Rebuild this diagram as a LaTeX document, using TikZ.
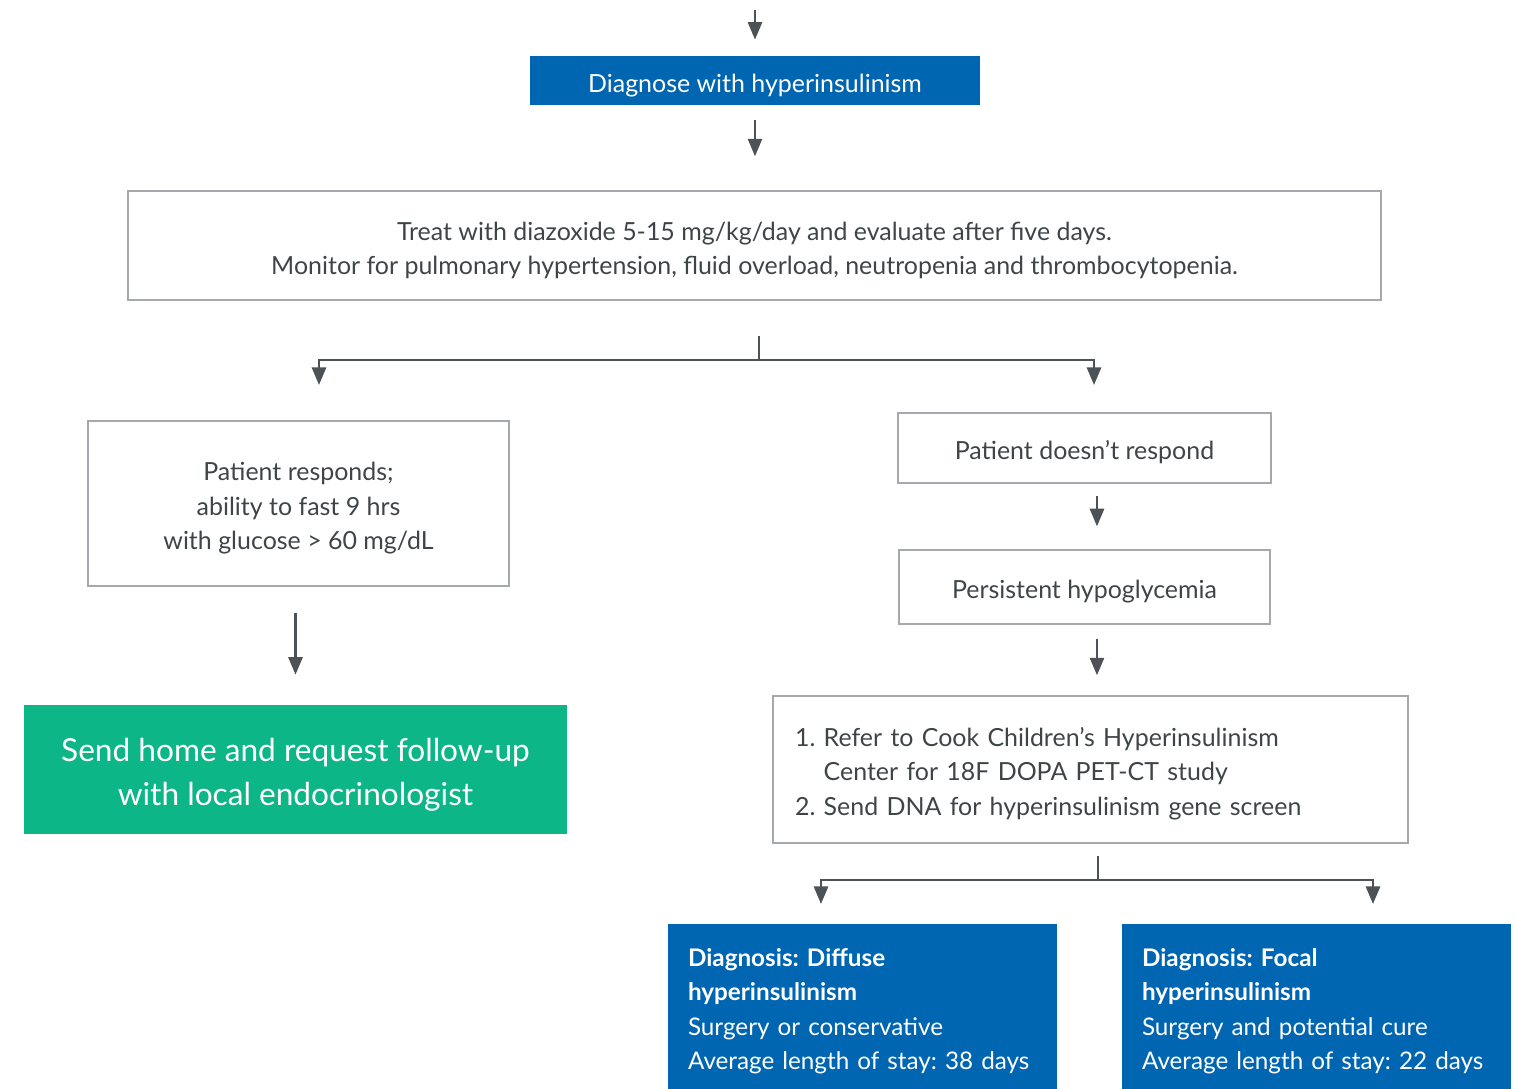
\documentclass[tikz,border=0pt]{standalone}
\usepackage{fontspec}
\setmainfont{Lato}
\usetikzlibrary{arrows.meta}
\frenchspacing
\definecolor{ciblue}{HTML}{0066B2}
\definecolor{cigreen}{HTML}{0CB687}
\definecolor{citext}{HTML}{3F4447}
\definecolor{ciline}{HTML}{A5A9AD}
\definecolor{ciarrow}{HTML}{4D5256}
\newcommand{\bodyfont}{\fontsize{14.2}{19.6}\selectfont}
\newcommand{\lift}[1]{\rule{0pt}{#1}}
\tikzset{
  stepbox/.style={draw=ciline, line width=0.8pt, text=citext, align=center, inner sep=0pt, font=\bodyfont},
  bluebox/.style={fill=ciblue, text=white, inner sep=0pt, font=\bodyfont},
  listbox/.style={draw=ciline, line width=0.8pt, text=citext, align=left, inner sep=0pt, font=\bodyfont},
  resultbox/.style={fill=ciblue, text=white, align=left, inner sep=0pt, inner xsep=0.4cm, minimum width=7.78cm,
    minimum height=3.3cm, text width=6.98cm, font=\fontsize{13.8}{19.6}\selectfont},
  arr/.style={draw=ciarrow, line width=1.5pt, -{Triangle[width=8pt,length=10pt]}},
  lin/.style={draw=ciarrow, line width=1.5pt},
}
\begin{document}
\begin{tikzpicture}[x=0.02cm, y=-0.02cm]
\useasboundingbox (0,0) rectangle (1516,1089);

\node[bluebox, minimum width=9cm, minimum height=0.98cm] (dg) at (755,80.5) {\lift{15.8pt}Diagnose with hyperinsulinism};
\node[stepbox, minimum width=25.06cm, minimum height=2.18cm] (treat) at (754.5,245.5)
  {\lift{15.8pt}Treat with diazoxide 5-15 mg/kg/day and evaluate after five days.\\
   Monitor for pulmonary hypertension, fluid overload, neutropenia and thrombocytopenia.};
\node[stepbox, minimum width=8.42cm, minimum height=3.3cm] (resp) at (298.5,503.5)
  {\lift{15.8pt}Patient responds;\\ ability to fast 9 hrs\\ with glucose > 60 mg/dL};
\node[fill=cigreen, text=white, align=center, inner sep=0pt, minimum width=10.86cm, minimum height=2.58cm,
  font=\fontsize{18}{25}\selectfont] (home) at (295.5,769.5)
  {\lift{19.2pt}Send home and request follow-up\\ with local endocrinologist};
\node[stepbox, minimum width=7.46cm, minimum height=1.4cm] (nr) at (1084.5,448) {\lift{15.8pt}Patient doesn’t respond};
\node[stepbox, minimum width=7.42cm, minimum height=1.48cm] (pers) at (1084.5,587) {\lift{15.8pt}Persistent hypoglycemia};
\node[listbox, inner xsep=0.44cm, minimum width=12.7cm, minimum height=2.94cm, text width=11.82cm] (refer) at (1090.5,769.5)
  {\lift{18.7pt}\begin{tabular}[t]{@{}l@{\ }l@{}}
   1. & Refer to Cook Children’s Hyperinsulinism\\
      & Center for 18F DOPA PET-CT study\\
   2. & Send DNA for hyperinsulinism gene screen
   \end{tabular}};
\node[resultbox] (diff) at (862.5,1006.5)
  {\lift{15.5pt}\textbf{Diagnosis: Diffuse}\\ \textbf{hyperinsulinism}\\ Surgery or conservative\\ Average length of stay: 38 days};
\node[resultbox] (focal) at (1316.5,1006.5)
  {\lift{15.5pt}\textbf{Diagnosis: Focal}\\ \textbf{hyperinsulinism}\\ Surgery and potential cure\\ Average length of stay: 22 days};

\coordinate (top) at (755,10);
\coordinate (h1) at (759,360);
\coordinate (eL) at (319,385);
\coordinate (eR) at (1094,385);
\coordinate (h2) at (1098,880);
\coordinate (fL) at (821,904);
\coordinate (fR) at (1373,904);

\draw[arr, shorten >=0.32cm] (top) -- (dg.north);
\draw[arr, shorten <=0.3cm, shorten >=0.68cm] (dg.south) -- (treat.north -| dg.south);
\draw[lin, shorten <=0.7cm] (treat.south -| h1) -- (h1);
\draw[arr] (h1) -| (eL);
\draw[arr] (h1) -| (eR);
\draw[arr, shorten <=0.52cm, shorten >=0.6cm] (home.north |- resp.south) -- (home.north);
\draw[arr, shorten <=0.24cm, shorten >=0.46cm] ([xshift=0.25cm]nr.south) -- ([xshift=0.25cm]pers.north);
\draw[arr, shorten <=0.28cm, shorten >=0.4cm] ([xshift=0.25cm]pers.south) -- ([xshift=0.25cm]pers.south |- refer.north);
\draw[lin, shorten <=0.24cm] (refer.south -| h2) -- (h2);
\draw[arr] (h2) -| (fL);
\draw[arr] (h2) -| (fR);
\end{tikzpicture}
\end{document}
